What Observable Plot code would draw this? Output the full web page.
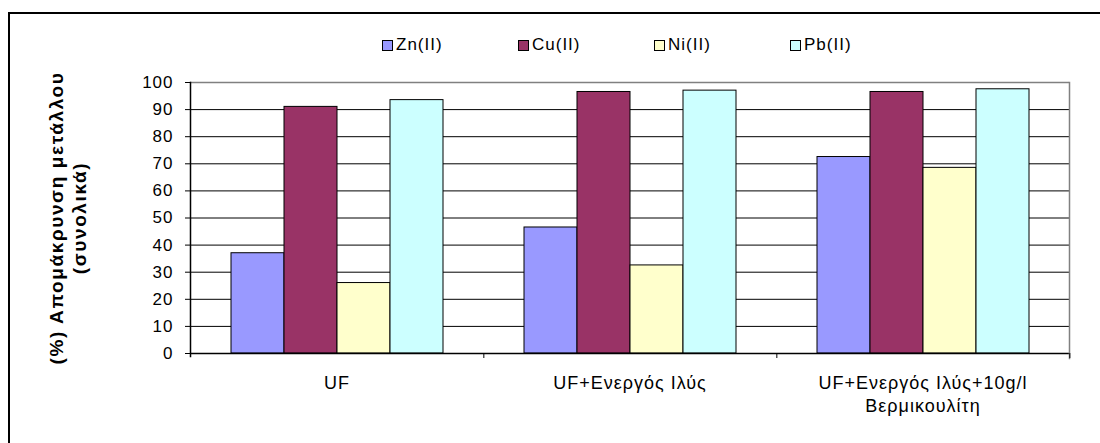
<!DOCTYPE html>
<html>
<head>
<meta charset="utf-8">
<script src="https://cdn.jsdelivr.net/npm/d3@7"></script>
<script src="https://cdn.jsdelivr.net/npm/@observablehq/plot@0.6"></script>
<style>
  html, body { margin: 0; padding: 0; background: #fff; overflow: hidden; }
  #chart { position: relative; width: 1100px; height: 443px; font-family: "Liberation Sans", Arial, sans-serif; }
  #border { position: absolute; left: 8px; top: 12px; width: 1200px; height: 600px;
            border-left: 2px solid #000; border-top: 2px solid #000; }
  #legend { position: absolute; left: 382px; top: 35px; display: flex; font-size: 17px; letter-spacing: 1px; color: #000; }
  #legend .item { width: 136px; display: flex; align-items: center; }
  #legend .sw { width: 9px; height: 9px; border: 1px solid #000; margin-right: 3px; }
  #plot { position: absolute; left: 0; top: 0; }
  #plot svg text { letter-spacing: 1px; }
  #plot svg g[aria-label="text"] text { letter-spacing: 1.6px; }
</style>
</head>
<body>
<div id="chart">
  <div id="border"></div>
  <div id="plot"></div>
  <div id="legend"></div>
</div>
<script>
// Treatment schemes (x groups) and metals (bars within a group)
const categories = ["UF", "UF+Ενεργός Ιλύς", "UF+Ενεργός Ιλύς+10g/l\nΒερμικουλίτη"];
const series = ["Zn(II)", "Cu(II)", "Ni(II)", "Pb(II)"];
const colors = ["#9999FF", "#993366", "#FFFFCC", "#CCFFFF"];

// Removal percentage per metal, one value per treatment scheme
const znValues = [37, 46.5, 72.5];
const cuValues = [91, 96.5, 96.5];
const niValues = [26, 32.5, 68.5];
const pbValues = [93.5, 97, 97.5];

const yTicks = [0, 10, 20, 30, 40, 50, 60, 70, 80, 90, 100];
const yTitle = "(%) Απομάκρυνση μετάλλου\n(συνολικά)";

const valuesBySeries = [znValues, cuValues, niValues, pbValues];
const data = [];
categories.forEach((c, i) => {
  series.forEach((s, j) => data.push({category: c, series: s, value: valuesBySeries[j][i]}));
});

const W = 1100, H = 443, mL = 189, mR = 30, mT = 82, mB = 90;
const groupWidth = (W - mL - mR) / categories.length;

const chart = Plot.plot({
  width: W,
  height: H,
  marginLeft: mL,
  marginRight: mR,
  marginTop: mT,
  marginBottom: mB,
  style: {fontFamily: "Liberation Sans, Arial, sans-serif", color: "#000", background: "transparent"},
  fx: {domain: categories, padding: 0, label: null},
  x: {domain: series, paddingInner: 0, paddingOuter: 0.757, axis: null},
  y: {domain: [0, 100], label: null},
  color: {domain: series, range: colors},
  marks: [
    Plot.gridY(yTicks.filter(t => t > 0 && t < 100), {stroke: "#000", strokeOpacity: 1}),
    Plot.ruleY([100], {stroke: "#808080", strokeWidth: 1.5}),
    Plot.barY(data, {fx: "category", x: "series", y: "value", fill: "series", stroke: "#000", strokeWidth: 1}),
    Plot.ruleY([0], {stroke: "#000", strokeWidth: 1.5}),
    Plot.frame({anchor: "left", facetAnchor: "left", stroke: "#000", strokeWidth: 1.5, insetBottom: -3}),
    Plot.frame({anchor: "right", facetAnchor: "right", stroke: "#808080", strokeWidth: 1.5, insetBottom: -5}),
    Plot.axisY({ticks: yTicks, tickSize: 5, tickPadding: 12, fontSize: 17, label: null, stroke: "#000"}),
    Plot.axisFx({anchor: "bottom", tickSize: 5, tickFormat: () => "", dx: groupWidth / 2, label: null, stroke: "#000"}),
    Plot.axisFx({anchor: "bottom", tickSize: 0, tickPadding: 19, fontSize: 18, lineHeight: 1.28, label: null}),
    Plot.text([yTitle], {frameAnchor: "left", facetAnchor: "left", rotate: -90, dx: -123,
      lineAnchor: "middle", textAnchor: "middle", fontSize: 19, fontWeight: "bold", lineHeight: 1.2, fill: "#000"})
  ]
});
document.getElementById("plot").appendChild(chart);

// Legend row above the plot
const legend = document.getElementById("legend");
series.forEach((s, i) => {
  const item = document.createElement("div");
  item.className = "item";
  const sw = document.createElement("span");
  sw.className = "sw";
  sw.style.background = colors[i];
  const label = document.createElement("span");
  label.textContent = s;
  item.appendChild(sw);
  item.appendChild(label);
  legend.appendChild(item);
});
</script>
</body>
</html>
